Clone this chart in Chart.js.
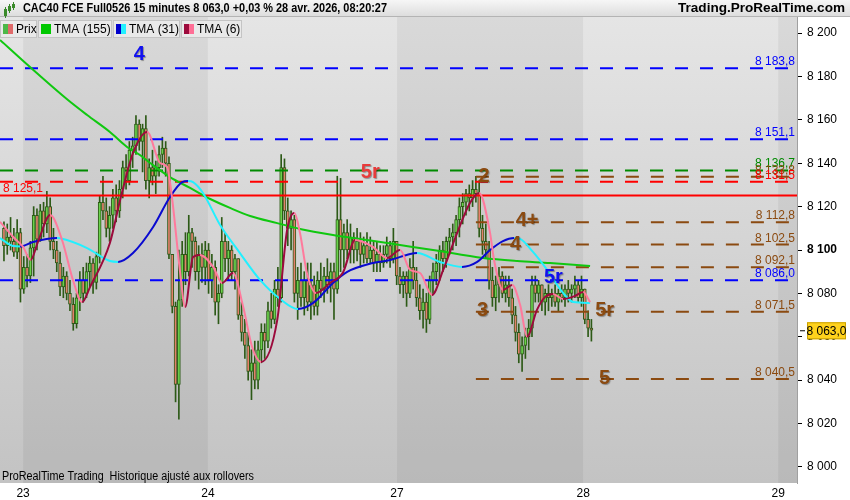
<!DOCTYPE html>
<html>
<head>
<meta charset="utf-8">
<script src="https://cdn.jsdelivr.net/npm/chart.js@4.4.1/dist/chart.umd.min.js"></script>
<style>
  html, body { margin: 0; padding: 0; background: #fff; }
  #wrap { width: 850px; height: 500px; position: relative; }
</style>
</head>
<body>
<div id="wrap"><canvas id="chart"></canvas></div>
<script>
// --- données : bougies 15 min (index de barre = position sur l'axe x) ---
const opens = [
  8110,8102,8106,8104,8099,8108,8082,8092,8088,8101,8116,8105,8118,8112,8120,8104,8100,8094,8083,8088,
  8080,8075,8066,8078,8086,8080,8090,8094,8085,8097,8122,8118,8110,8116,8124,8118,8128,8138,8132,8146,
  8148,8158,8150,8156,8132,8138,8134,8138,8144,8147,8140,8098,8074,8038,8077,8098,8090,8108,8104,8090,
  8098,8092,8100,8086,8092,8076,8080,8104,8096,8100,8090,8096,8070,8062,8056,8044,8048,8040,8054,8062,
  8058,8072,8068,8082,8078,8138,8118,8110,8114,8080,8086,8078,8086,8076,8084,8074,8086,8082,8088,8084,
  8090,8082,8114,8100,8108,8100,8106,8100,8104,8098,8102,8096,8100,8094,8098,8094,8098,8102,8096,8104,
  8088,8084,8088,8080,8092,8086,8078,8072,8076,8068,8086,8090,8094,8100,8096,8104,8106,8108,8114,8120,
  8122,8126,8124,8128,8126,8110,8104,8100,8086,8078,8084,8088,8080,8084,8078,8070,8062,8052,8056,8060,
  8064,8084,8080,8084,8076,8080,8078,8080,8076,8080,8078,8082,8080,8082,8084,8078,8082,8068,8064
];
const highs = [
  8113,8112,8115,8110,8114,8110,8097,8098,8104,8120,8119,8121,8122,8127,8124,8110,8104,8099,8092,8090,
  8086,8078,8080,8090,8092,8094,8097,8096,8099,8125,8134,8124,8120,8128,8130,8132,8141,8144,8150,8152,
  8162,8160,8158,8162,8142,8146,8141,8148,8152,8150,8143,8098,8076,8100,8104,8108,8116,8110,8106,8102,
  8103,8104,8103,8098,8095,8084,8115,8108,8104,8102,8098,8096,8076,8068,8062,8054,8058,8058,8066,8066,
  8076,8080,8086,8092,8144,8142,8124,8118,8116,8092,8094,8090,8094,8094,8088,8090,8094,8092,8096,8094,
  8094,8134,8133,8112,8114,8112,8108,8110,8108,8106,8108,8106,8104,8104,8102,8102,8106,8104,8110,8104,
  8092,8090,8090,8096,8104,8092,8084,8082,8080,8088,8094,8098,8102,8104,8106,8110,8112,8116,8124,8126,
  8128,8130,8132,8134,8132,8116,8112,8104,8092,8088,8092,8090,8088,8088,8082,8074,8066,8060,8064,8068,
  8088,8088,8086,8084,8082,8084,8082,8084,8082,8084,8084,8086,8084,8088,8086,8088,8082,8072,8068
];
const lows = [
  8095,8098,8100,8097,8096,8076,8080,8083,8085,8088,8100,8104,8106,8108,8100,8096,8090,8079,8078,8077,
  8072,8063,8064,8072,8076,8078,8083,8080,8082,8094,8114,8106,8104,8110,8113,8115,8124,8128,8130,8138,
  8144,8146,8136,8128,8124,8130,8126,8134,8138,8134,8096,8071,8030,8022,8074,8084,8088,8092,8086,8082,
  8085,8084,8080,8078,8070,8066,8078,8090,8086,8086,8082,8068,8058,8050,8040,8031,8036,8036,8048,8050,
  8055,8064,8066,8074,8076,8114,8102,8100,8076,8068,8074,8070,8072,8068,8070,8070,8078,8076,8080,8076,
  8068,8080,8090,8092,8096,8094,8094,8095,8092,8094,8094,8094,8090,8090,8090,8092,8094,8092,8094,8084,
  8080,8078,8074,8078,8082,8074,8068,8064,8062,8066,8080,8084,8086,8090,8092,8098,8100,8102,8106,8112,
  8116,8118,8120,8122,8106,8098,8096,8082,8074,8072,8076,8078,8076,8074,8066,8058,8048,8044,8050,8054,
  8060,8076,8076,8072,8070,8072,8074,8074,8072,8076,8074,8076,8076,8078,8076,8074,8066,8060,8058
];
const closes = [
  8102,8106,8104,8099,8108,8082,8092,8088,8101,8116,8105,8118,8112,8120,8104,8100,8094,8083,8088,8080,
  8075,8066,8078,8086,8080,8090,8094,8085,8097,8122,8118,8110,8116,8124,8118,8128,8138,8132,8146,8148,
  8158,8150,8156,8132,8138,8134,8138,8144,8147,8140,8098,8074,8038,8077,8098,8090,8108,8104,8090,8098,
  8092,8100,8086,8092,8076,8080,8104,8096,8100,8090,8096,8070,8062,8056,8044,8048,8040,8054,8062,8058,
  8072,8068,8082,8078,8138,8118,8110,8114,8080,8086,8078,8086,8076,8084,8074,8086,8082,8088,8084,8090,
  8082,8114,8100,8108,8100,8106,8100,8104,8098,8102,8096,8100,8094,8098,8094,8098,8102,8096,8104,8088,
  8084,8088,8080,8092,8086,8078,8072,8076,8068,8086,8090,8094,8100,8096,8104,8106,8108,8114,8120,8122,
  8126,8124,8128,8126,8110,8104,8100,8086,8078,8084,8088,8080,8084,8078,8070,8062,8052,8056,8060,8064,
  8084,8080,8084,8076,8080,8078,8080,8076,8080,8078,8082,8080,8082,8084,8078,8082,8068,8064,8063
];

// moyennes mobiles triangulaires
const tma155Bars = [-1.2, 7.9, 19.4, 25.2, 32.1, 37.3, 41.2, 44.3, 50.3, 56.4, 62.5, 68.5, 74.6, 82.8, 89.7, 99.7, 110, 120, 130, 145.2, 155.5, 165.5, 177.6];
const tma155Vals = [8196.8, 8184.3, 8169.1, 8162.2, 8154.4, 8147.5, 8143.8, 8140.1, 8133.6, 8128.6, 8123.5, 8119.4, 8115.7, 8112.4, 8109.7, 8106.9, 8104.6, 8102.3, 8100.0, 8096.3, 8094.9, 8094.0, 8092.6];

const tma31Bars = [-1.2, 2.8, 4.9, 8.8, 16.1, 17, 25.2, 32.1, 34.6, 39.1, 45.2, 50.3, 54, 55.8, 57.3, 60.3, 65.5, 71.5, 77.6, 83.7, 89.1, 93.7, 99.7, 104, 111.8, 117, 123.1, 125.2, 132.1, 138.8, 143.4, 147.3, 151.2, 154.6, 156.4, 160.3, 164.6, 169.4, 172.5, 177.6];
const tma31Vals = [8105.5, 8101.8, 8101.6, 8103.7, 8105.5, 8105.4, 8100.9, 8094.9, 8094.5, 8098.6, 8110.6, 8124.4, 8131.3, 8131.8, 8131.3, 8126.3, 8111.5, 8098.6, 8086.2, 8077.4, 8072.8, 8075.6, 8084.8, 8089.9, 8094.0, 8095.4, 8098.2, 8098.6, 8094.5, 8092.2, 8094.5, 8100.0, 8104.1, 8105.5, 8105.1, 8099.1, 8090.8, 8080.2, 8076.0, 8075.6];

const tma6Bars = [-1.2, 2.8, 5.8, 8.1, 10.3, 14.0, 17.6, 20.9, 23.7, 26.1, 32.1, 35.2, 39.1, 43.4, 47.3, 49.4, 50.9, 53.4, 54.9, 57.3, 59.4, 63.4, 66.1, 69.4, 72.5, 75.2, 77.9, 82.8, 85.8, 88.0, 89.7, 91.8, 94.6, 98.8, 102.8, 106.4, 111.8, 116.1, 120.0, 123.1, 126.1, 129.7, 133.1, 137.3, 141.2, 144.0, 147.3, 148.5, 151.2, 154.0, 156.4, 158.5, 161.5, 164.0, 166.4, 169.4, 173.0, 175.5, 177.6];
const tma6Vals = [8113.0, 8106.0, 8101.4, 8095.4, 8103.7, 8116.1, 8104.6, 8086.2, 8076.0, 8083.0, 8103.2, 8123.0, 8144.7, 8154.4, 8140.1, 8138.3, 8124.4, 8089.4, 8073.7, 8096.8, 8097.7, 8092.2, 8084.8, 8089.4, 8073.7, 8055.3, 8048.4, 8067.7, 8109.2, 8117.0, 8107.8, 8089.4, 8080.2, 8084.8, 8089.9, 8104.6, 8101.4, 8096.3, 8100.0, 8090.8, 8089.4, 8079.3, 8090.8, 8107.8, 8121.7, 8126.3, 8107.8, 8095.4, 8081.6, 8083.9, 8074.7, 8060.1, 8072.4, 8078.4, 8079.7, 8077.4, 8078.8, 8080.6, 8076.0];

// niveaux horizontaux
const levelValues = [8183.8, 8151.1, 8136.7, 8133.8, 8131.5, 8125.1, 8112.8, 8102.5, 8092.1, 8086.0, 8071.5, 8040.5];

// étiquettes de vagues
const waveTexts  = ['4', '5r', '2', '4+', '4', '5r', '3', '5r', '5'];
const waveBars   = [41, 111, 145.5, 158.5, 155, 166.5, 145, 182, 182];
const wavePrices = [8190, 8135.5, 8134, 8113.5, 8102.5, 8087.5, 8072, 8072, 8041];

// axes
const dayTicks  = [5.8, 61.8, 119.1, 175.5, 234.6];
const dayLabels = ['23', '24', '27', '28', '29'];
const yTicks = [8000, 8020, 8040, 8060, 8080, 8100, 8120, 8140, 8160, 8180, 8200];
const lastPrice = 8063.0;

const X_MIN = -1.2, X_MAX = 240.3;
const Y_MIN = 7992.6, Y_MAX = 8207.4;

// --- styles ---
const BLUE = '#0000ff', GREEN = '#008a00', RED = '#ff0000', BROWN = '#8b4a10';
const levelStyles = [
  { color: BLUE,  dash: [13, 12], from: X_MIN, label: 'right' },
  { color: BLUE,  dash: [13, 12], from: X_MIN, label: 'right' },
  { color: GREEN, dash: [13, 12], from: X_MIN, label: 'right' },
  { color: BROWN, dash: [13, 12], from: 143,   label: 'right' },
  { color: RED,   dash: [13, 12], from: X_MIN, label: 'right' },
  { color: RED,   dash: [],       from: X_MIN, label: 'left' },
  { color: BROWN, dash: [13, 12], from: 143,   label: 'right' },
  { color: BROWN, dash: [13, 12], from: 143,   label: 'right' },
  { color: BROWN, dash: [13, 12], from: 143,   label: 'right' },
  { color: BLUE,  dash: [13, 12], from: X_MIN, label: 'right' },
  { color: BROWN, dash: [13, 12], from: 143,   label: 'right' },
  { color: BROWN, dash: [13, 12], from: 143,   label: 'right' }
];
const waveColors = ['#1010f0', '#e83a3a', BROWN, BROWN, BROWN, '#1010f0', BROWN, BROWN, BROWN];

const FONT = '"Liberation Sans", Arial, sans-serif';
Chart.defaults.font.family = FONT;
Chart.defaults.color = '#000';

function fmtNum(v, dec) {
  const parts = v.toFixed(dec).split('.');
  const ip = parts[0].replace(/\B(?=(\d{3})+(?!\d))/g, ' ');
  return parts[1] ? ip + ',' + parts[1] : ip;
}

const WICK = '#2d5a17';
const wickData = highs.map((h, i) => ({ x: i, y: [lows[i], h] }));
const bodyData = opens.map((o, i) => ({ x: i, y: [o, closes[i]] }));
const bodyColors = opens.map((o, i) => closes[i] >= o ? '#6ad24c' : '#e4806c');

function maLine(bars, vals, up, down, order) {
  return {
    type: 'line',
    data: bars.map((b, i) => ({ x: b, y: vals[i] })),
    borderColor: up,
    borderWidth: 2,
    pointRadius: 0,
    cubicInterpolationMode: 'monotone',
    segment: { borderColor: c => c.p1.parsed.y >= c.p0.parsed.y ? up : down },
    order: order
  };
}

const levelSets = levelValues.map((v, i) => ({
  type: 'line',
  data: [{ x: levelStyles[i].from, y: v }, { x: X_MAX, y: v }],
  borderColor: levelStyles[i].color,
  borderDash: levelStyles[i].dash,
  borderWidth: 2,
  pointRadius: 0,
  order: 5
}));

// fond : dégradé + bandes des jours
const bgPlugin = {
  id: 'bg',
  beforeDraw(chart) {
    const { ctx, chartArea: a, scales: { x } } = chart;
    ctx.save();
    ctx.fillStyle = '#fff';
    ctx.fillRect(0, 0, chart.width, chart.height);
    const g = ctx.createLinearGradient(0, a.top, 0, a.bottom);
    g.addColorStop(0, '#e5e5e5');
    g.addColorStop(1, '#c3c3c3');
    ctx.fillStyle = g;
    ctx.fillRect(a.left, a.top, a.right - a.left, a.bottom - a.top);
    ctx.fillStyle = 'rgba(0,0,0,0.05)';
    for (let i = 0; i < dayTicks.length; i += 2) {
      const x0 = x.getPixelForValue(dayTicks[i]);
      const x1 = i + 1 < dayTicks.length ? x.getPixelForValue(dayTicks[i + 1]) : a.right;
      ctx.fillRect(x0, a.top, Math.min(x1, a.right) - x0, a.bottom - a.top);
    }
    ctx.restore();
  }
};

function fitText(ctx, text, x, y, width) {
  const w = ctx.measureText(text).width;
  ctx.save();
  ctx.translate(x, y);
  ctx.scale(width / w, 1);
  ctx.fillText(text, 0, 0);
  ctx.restore();
}

// textes, étiquettes et bandeau
const overlayPlugin = {
  id: 'overlay',
  afterDraw(chart) {
    const { ctx, chartArea: a, scales: { x, y } } = chart;
    ctx.save();

    // étiquettes des niveaux
    ctx.font = '12px ' + FONT;
    ctx.textBaseline = 'alphabetic';
    levelValues.forEach((v, i) => {
      const py = y.getPixelForValue(v) - 3;
      ctx.fillStyle = levelStyles[i].color;
      if (levelStyles[i].label === 'left') {
        ctx.textAlign = 'left';
        ctx.fillText(fmtNum(v, 1), a.left + 3, py - 1);
      } else {
        ctx.textAlign = 'right';
        ctx.fillText(fmtNum(v, 1), a.right - 2, py);
      }
    });

    // étiquettes des vagues
    ctx.font = 'bold 20px ' + FONT;
    ctx.textAlign = 'center';
    ctx.textBaseline = 'middle';
    ctx.shadowColor = 'rgba(0,0,0,0.35)';
    ctx.shadowOffsetX = 1;
    ctx.shadowOffsetY = 1;
    ctx.shadowBlur = 1;
    waveTexts.forEach((t, i) => {
      ctx.fillStyle = waveColors[i];
      ctx.fillText(t, x.getPixelForValue(waveBars[i]), y.getPixelForValue(wavePrices[i]));
    });
    ctx.shadowColor = 'transparent';

    // dernier cours
    const ly = y.getPixelForValue(lastPrice);
    ctx.fillStyle = '#ffd21c';
    ctx.fillRect(a.right + 10, ly - 8, 39, 17);
    ctx.strokeStyle = '#c9a000';
    ctx.lineWidth = 1;
    ctx.strokeRect(a.right + 10.5, ly - 7.5, 38, 16);
    ctx.strokeStyle = '#000';
    ctx.beginPath();
    ctx.moveTo(a.right + 3, ly + 0.5);
    ctx.lineTo(a.right + 8, ly + 0.5);
    ctx.stroke();
    ctx.fillStyle = '#000';
    ctx.font = '12px ' + FONT;
    ctx.textAlign = 'center';
    ctx.textBaseline = 'middle';
    ctx.fillText(fmtNum(lastPrice, 1), a.right + 29.5, ly + 1);

    // bandeau de titre
    const hg = ctx.createLinearGradient(0, 0, 0, 17);
    hg.addColorStop(0, '#f6f6f6');
    hg.addColorStop(1, '#dcdcdc');
    ctx.fillStyle = hg;
    ctx.fillRect(0, 0, chart.width, 17);
    ctx.fillStyle = '#b4b4b4';
    ctx.fillRect(0, 16, chart.width, 1);
    // icône
    ctx.fillStyle = '#3a8a2a';
    [[5, 7, 11], [9, 4, 9], [13, 2, 8]].forEach(c => {
      ctx.fillRect(c[0], c[1], 1, c[2]);
      ctx.fillRect(c[0] - 1, c[1] + 2, 3, c[2] - 4);
    });
    ctx.fillStyle = '#000';
    ctx.textAlign = 'left';
    ctx.textBaseline = 'middle';
    ctx.font = 'bold 12px ' + FONT;
    fitText(ctx, 'CAC40 FCE Full0526 15 minutes 8 063,0 +0,03 % 28 avr. 2026, 08:20:27', 23, 9, 364);
    fitText(ctx, 'Trading.ProRealTime.com', 678, 9, 167);

    // légende des indicateurs
    const boxes = [
      { x: 0, w: 37, text: 'Prix', c1: '#4cb848', c2: '#e06a6a' },
      { x: 38, w: 74, text: 'TMA (155)', c1: '#00c800', c2: '#00c800' },
      { x: 113, w: 67, text: 'TMA (31)', c1: '#0000cc', c2: '#22f0ff' },
      { x: 181, w: 61, text: 'TMA (6)', c1: '#9c0a3c', c2: '#ff6f96' }
    ];
    ctx.font = '12px ' + FONT;
    boxes.forEach(b => {
      ctx.fillStyle = '#e9e9e9';
      ctx.fillRect(b.x, 20, b.w, 18);
      ctx.strokeStyle = '#c4c4c4';
      ctx.strokeRect(b.x + 0.5, 20.5, b.w - 1, 17);
      ctx.fillStyle = b.c1;
      ctx.fillRect(b.x + 3, 24, 5, 10);
      ctx.fillStyle = b.c2;
      ctx.fillRect(b.x + 8, 24, 5, 10);
      ctx.fillStyle = '#000';
      ctx.fillText(b.text, b.x + 16, 30);
    });

    // pied
    ctx.font = '12px "Liberation Sans Narrow", "Arial Narrow", ' + FONT;
    ctx.textBaseline = 'alphabetic';
    fitText(ctx, 'ProRealTime Trading  Historique ajusté aux rollovers', 2, 480, 252);

    ctx.restore();
  }
};

new Chart(document.getElementById('chart'), {
  type: 'bar',
  data: {
    datasets: [
      maLine(tma6Bars, tma6Vals, '#9c0a3c', '#ff7a9c', 0),
      maLine(tma31Bars, tma31Vals, '#0a0ad0', '#22f0ff', 1),
      maLine(tma155Bars, tma155Vals, '#10c810', '#10c810', 2),
      {
        type: 'bar',
        data: bodyData,
        backgroundColor: bodyColors,
        borderColor: WICK,
        borderWidth: 1,
        borderSkipped: false,
        barThickness: 3,
        minBarLength: 2,
        grouped: false,
        order: 6
      },
      {
        type: 'bar',
        data: wickData,
        backgroundColor: WICK,
        barThickness: 1,
        grouped: false,
        order: 7
      },
      ...levelSets
    ]
  },
  options: {
    responsive: true,
    maintainAspectRatio: false,
    animation: false,
    layout: { padding: { top: 17, left: 0, right: 0, bottom: 0 } },
    plugins: { legend: { display: false }, tooltip: { enabled: false } },
    scales: {
      x: {
        type: 'linear',
        min: X_MIN,
        max: X_MAX,
        offset: false,
        grid: { display: false, drawTicks: false, tickLength: 0 },
        border: { display: false },
        afterBuildTicks: s => { s.ticks = dayTicks.map(v => ({ value: v })); },
        afterFit: s => { s.height = 17; },
        ticks: {
          autoSkip: false,
          maxRotation: 0,
          padding: 3,
          font: { size: 12 },
          color: '#000',
          callback: (v, i) => dayLabels[i]
        }
      },
      y: {
        position: 'right',
        min: Y_MIN,
        max: Y_MAX,
        beginAtZero: false,
        grid: { display: true, drawOnChartArea: false, drawTicks: true, tickLength: 5, tickColor: '#000' },
        border: { display: true, color: '#a0a0a0' },
        afterBuildTicks: s => { s.ticks = yTicks.map(v => ({ value: v })); },
        afterFit: s => { s.width = 53; },
        ticks: {
          padding: 5,
          color: '#000',
          font: c => ({ size: 12, weight: c.tick && c.tick.value === 8100 ? 'bold' : 'normal' }),
          callback: v => fmtNum(v, 0)
        }
      }
    }
  },
  plugins: [bgPlugin, overlayPlugin]
});
</script>
</body>
</html>
